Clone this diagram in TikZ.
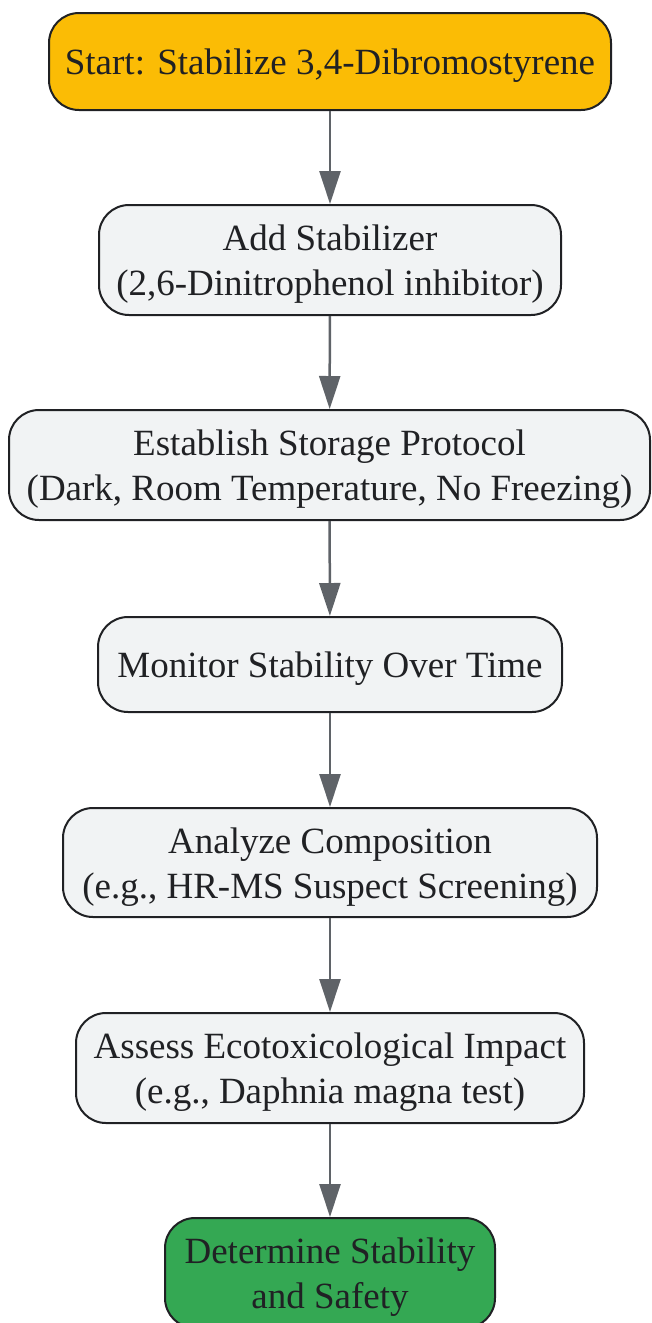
\documentclass[tikz,border=0pt]{standalone}
\usepackage{fontspec}
\setmainfont{Liberation Serif}
\usetikzlibrary{arrows.meta}
\definecolor{startfill}{HTML}{FBBC05}
\definecolor{endfill}{HTML}{34A853}
\definecolor{boxfill}{HTML}{F1F3F4}
\definecolor{edge}{HTML}{202124}
\definecolor{arrowc}{HTML}{5F6368}
\begin{document}
\begin{tikzpicture}[x=1pt,y=1pt,
  box/.style={draw=edge, line width=2pt, rounded corners=30pt, fill=boxfill, inner sep=0pt},
  boxtext/.style={text=edge, align=center, inner sep=0pt, yshift=-4.5pt,
    font=\fontsize{37}{45}\selectfont},
  conn/.style={draw=arrowc, line width=2.5pt, -{Triangle[length=33pt,width=21pt]}}]
\useasboundingbox (0,0) rectangle (651,-1323);
\node[box, fill=startfill, minimum width=562pt, minimum height=97pt,
  label={[boxtext]center:{Start: Stabilize 3,4-Dibromostyrene}}] (n1) at (330,-61.5) {};
\node[box, minimum width=462pt, minimum height=110pt,
  label={[boxtext]center:{Add Stabilizer\\(2,6-Dinitrophenol inhibitor)}}] (n2) at (330,-260) {};
\node[box, minimum width=641pt, minimum height=110pt,
  label={[boxtext]center:{Establish Storage Protocol\\(Dark, Room Temperature, No Freezing)}}] (n3) at (329.5,-465) {};
\node[box, minimum width=464pt, minimum height=95pt,
  label={[boxtext]center:{Monitor Stability Over Time}}] (n4) at (330,-664.5) {};
\node[box, minimum width=534pt, minimum height=109pt,
  label={[boxtext]center:{Analyze Composition\\(e.g., HR-MS Suspect Screening)}}] (n5) at (330,-862.5) {};
\node[box, minimum width=508pt, minimum height=110pt,
  label={[boxtext]center:{Assess Ecotoxicological Impact\\(e.g., Daphnia magna test)}}] (n6) at (330,-1068) {};
\node[box, fill=endfill, minimum width=330pt, minimum height=110pt,
  label={[boxtext]center:{Determine Stability\\and Safety}}] (n7) at (330,-1273) {};
\draw[conn] (n1) -- (n2);
\draw[conn] (n2) -- (n3);
\draw[conn] (n3) -- (n4);
\draw[conn] (n4) -- (n5);
\draw[conn] (n5) -- (n6);
\draw[conn] (n6) -- (n7);
\end{tikzpicture}
\end{document}
